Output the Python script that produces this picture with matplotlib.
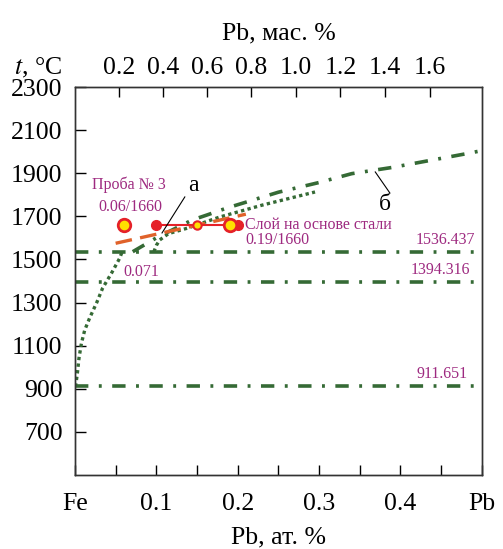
import numpy as np
import matplotlib.pyplot as plt

plt.rcParams['font.family'] = ['Liberation Serif', 'DejaVu Serif']
plt.rcParams['mathtext.fontset'] = 'stix'

# горизонтальные линии (превращения Fe)
t_lines = [1536.437, 1394.316, 911.651]

# пунктирная кривая, ветвь 1 (от Fe)
dot1_x = [0.0, 0.001, 0.003, 0.005, 0.008, 0.012, 0.018, 0.027, 0.034, 0.045, 0.055, 0.058]
dot1_t = [911, 917, 973, 1043, 1112, 1172, 1228, 1302, 1367, 1437, 1506, 1536]
# пунктирная кривая, ветвь 2
dot2_x = [0.097, 0.100, 0.104, 0.115, 0.138, 0.178, 0.230, 0.295]
dot2_t = [1536, 1565, 1590, 1620, 1645, 1697, 1752, 1813]
# штрихпунктир "б"
b_x = [0.071, 0.100, 0.144, 0.162, 0.187, 0.219, 0.250, 0.300, 0.340, 0.390, 0.430, 0.480, 0.500]
b_t = [1536, 1600, 1683, 1706, 1739, 1776, 1812, 1857, 1898, 1927, 1955, 1990, 2005]
# оранжевая штриховая
or_x = [0.05, 0.15, 0.21]
or_t = [1575, 1659, 1710]
# слой
layer_x = [0.10, 0.20]
layer_t = [1660, 1660]

xticks = [0.0, 0.1, 0.2, 0.3, 0.4, 0.5]
xlabels = ['Fe', '0.1', '0.2', '0.3', '0.4', 'Pb']
yticks = [700, 900, 1100, 1300, 1500, 1700, 1900, 2100, 2300]
mass_ticks = [0.2, 0.4, 0.6, 0.8, 1.0, 1.2, 1.4, 1.6]

green = '#356a35'
purple = '#9e2a80'
red = '#e52128'

def mass_to_at(w):
    w = np.asarray(w)
    return (w / 207.2) / (w / 207.2 + (100 - w) / 55.845) * 100

fig = plt.figure(figsize=(5.03, 5.49), dpi=100)
ax = fig.add_axes([0.149, 0.1348, 0.809, 0.7067])

for t in t_lines:
    ax.axhline(t, color=green, lw=2.6, ls=(0, (3.7, 2.9, 0.8, 2.9)))

ax.plot(dot1_x, dot1_t, color=green, lw=2.4, ls=(0, (1, 1.0)))
ax.plot(dot2_x, dot2_t, color=green, lw=2.4, ls=(0, (1, 1.0)))
ax.plot(b_x, b_t, color=green, lw=2.6, ls=(0, (3.7, 2.9, 0.8, 2.9)))
ax.plot(or_x, or_t, color='#e0622a', lw=2.4, ls=(0, (5, 2.5)))

ax.plot(layer_x, layer_t, color=red, lw=1.5)
ax.plot(layer_x, layer_t, 'o', color=red, ms=7)
ax.plot([0.15], [1660], 'o', mfc='#ffe000', mec=red, mew=1.5, ms=6)
ax.plot([0.06, 0.19], [1660, 1660], 'o', mfc='#ffe000', mec=red, mew=2, ms=9)

# подписи
fs = 11.5
ax.text(0.0657, 1845, 'Проба № 3', color=purple, fontsize=fs, ha='center', va='center')
ax.text(0.0676, 1743, '0.06/1660', color=purple, fontsize=fs, ha='center', va='center')
ax.text(0.209, 1662, 'Слой на основе стали', color=purple, fontsize=fs, ha='left', va='center')
ax.text(0.209, 1592, '0.19/1660', color=purple, fontsize=fs, ha='left', va='center')
ax.text(0.059, 1442, '0.071', color=purple, fontsize=fs, ha='left', va='center')
ax.text(0.492, 1592, '1536.437', color=purple, fontsize=fs, ha='right', va='center')
ax.text(0.486, 1450, '1394.316', color=purple, fontsize=fs, ha='right', va='center')
ax.text(0.483, 967, '911.651', color=purple, fontsize=fs, ha='right', va='center')

ax.text(0.145, 1845, 'а', fontsize=17, ha='center', va='center')
ax.plot([0.135, 0.107], [1790, 1623], color='black', lw=0.8)
ax.text(0.381, 1753, 'б', fontsize=17, ha='center', va='center')
ax.plot([0.387, 0.369], [1808, 1906], color='black', lw=0.8)

ax.set_xlim(0, 0.5)
ax.set_ylim(500, 2300)
ax.set_xticks(xticks)
ax.set_xticklabels(xlabels)
ax.set_xticks(np.arange(0.05, 0.5, 0.1), minor=True)
ax.set_yticks(yticks)
ax.tick_params(axis='x', which='both', direction='in', length=7, width=1, pad=13, labelsize=18.5, top=False)
ax.tick_params(axis='y', direction='in', length=8, width=1, pad=9, labelsize=18.5, right=False)
ax.set_xlabel('Pb, ат. %', fontsize=18.5, labelpad=8)

ax2 = ax.twiny()
ax2.set_xlim(0, 0.5)
ax2.set_xticks(mass_to_at(mass_ticks))
ax2.set_xticklabels([f'{m:.1f}' for m in mass_ticks])
ax2.tick_params(axis='x', direction='in', length=7, width=1, pad=5.5, labelsize=18.5)
ax2.set_xlabel('Pb, мас. %', fontsize=18.5, labelpad=13)

for a in (ax, ax2):
    for s in a.spines.values():
        s.set_color('#333333')
        s.set_linewidth(1.0)

fig.text(0.027, 0.876, '$t$, °C', fontsize=18.5, ha='left', va='center')

fig.savefig('out.png', dpi=100)
